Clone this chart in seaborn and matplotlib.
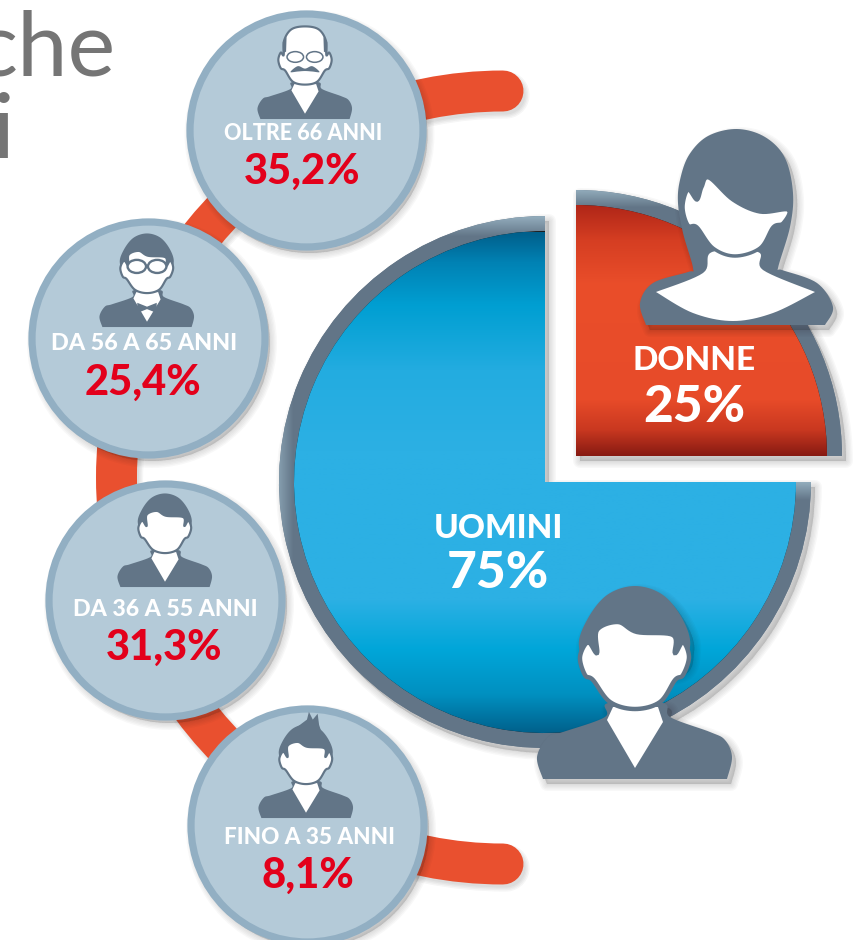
import numpy as np
import pandas as pd
import matplotlib
matplotlib.use('Agg')
import matplotlib.pyplot as plt
from matplotlib.colors import to_rgb
from matplotlib.patches import PathPatch, Ellipse
from matplotlib.path import Path
from matplotlib.transforms import Affine2D
import seaborn as sns

# data
age_groups = ['OLTRE 66 ANNI', 'DA 56 A 65 ANNI', 'DA 36 A 55 ANNI', 'FINO A 35 ANNI']
age_values = [35.2, 25.4, 31.3, 8.1]
gender_labels = ['UOMINI', 'DONNE']
gender_values = [75, 25]
title_bits = ['che', 'i']

# layout, in pixels of the picture (y down)
W, H = 858, 940
circle_x = [305.5, 148, 165, 307]
circle_y = [130, 338, 600, 825]
label_x = [303, 144, 165, 309]
label_y = [133, 344, 609, 837]
label_size = [15.5, 16.8, 16.7, 16.2]
SLATE = '#627587'
ORANGE = '#e9502f'
RED_TXT = '#e3001b'

sns.set_theme(style='white')
plt.rcParams['font.family'] = ['Lato', 'DejaVu Sans']

fig = plt.figure(figsize=(W / 100, H / 100), dpi=100)
ax = fig.add_axes([0, 0, 1, 1])
img = Affine2D().scale(1, -1).translate(0, H) + ax.transData


def smooth(pts, closed=True, n=10):
    # catmull-rom through the points
    p = np.array(pts, dtype=float)
    if closed:
        p = np.vstack([p[-1], p, p[0], p[1]])
    else:
        p = np.vstack([p[0], p, p[-1]])
    out = []
    for i in range(1, len(p) - 2):
        for t in np.linspace(0, 1, n, endpoint=False):
            out.append(0.5 * (2 * p[i] + (p[i + 1] - p[i - 1]) * t
                              + (2 * p[i - 1] - 5 * p[i] + 4 * p[i + 1] - p[i + 2]) * t ** 2
                              + (3 * p[i] - p[i - 1] - 3 * p[i + 1] + p[i + 2]) * t ** 3))
    if not closed:
        out.append(p[-2])
    return np.array(out)


def drop(path, z, dx=4, dy=5):
    # soft shadow made of a few wide see-through strokes
    moved = path.transformed(Affine2D().translate(dx, dy))
    for w in [10, 8, 6, 4, 2, 0.5]:
        ax.add_patch(PathPatch(moved, fc='k', ec='k', lw=w, alpha=0.028,
                               joinstyle='round', capstyle='round', transform=img, zorder=z))


def shape(xy, fc, z, ec='none', lw=0, shadow=False):
    path = Path(np.vstack([xy, xy[0]]), closed=True)
    if shadow:
        drop(path, z - 0.1)
    ax.add_patch(PathPatch(path, fc=fc, ec=ec, lw=lw, transform=img, zorder=z))


def place(pts, cx, cy, s):
    return np.array(pts, dtype=float) * s + [cx, cy]


MAN_SHOULDERS = [(-92, 97), (-98, 75), (-87, 55), (-72, 50), (-30, 35), (-27, 21),
                 (28, 21), (35, 35), (75, 50), (90, 58), (97, 75), (92, 97)]
MAN_HAIR = [(-56, -35), (-48, -62), (-28, -87), (0, -96), (28, -87), (48, -62), (55, -35),
            (40, -10), (-40, -10)]
MAN_FACE = [(-38, -52), (-17, -60), (2, -50), (38, -47), (40, -29), (48, -40), (54, -25),
            (48, -7), (40, -2), (25, 20), (0, 27), (-25, 20), (-42, -2), (-50, -7),
            (-55, -25), (-47, -40), (-38, -29)]
MAN_NECK = [(-28, 38), (0, 86), (28, 40), (23, 25), (-22, 25)]
BALD_FACE = [(0, -94), (28, -88), (43, -65), (44, -35), (50, -40), (55, -25), (50, -8),
             (41, -3), (25, 20), (0, 26), (-25, 20), (-41, -3), (-50, -8), (-55, -25),
             (-50, -40), (-44, -35), (-43, -65), (-28, -88)]


def man(cx, cy, s, z, kind='plain', shadow=False):
    body = smooth(MAN_SHOULDERS, closed=False)
    shape(place(body, cx, cy, s), SLATE, z, shadow=shadow)
    if kind == 'young':
        tuft = [(-22, -88), (2, -106), (6, -122), (14, -106), (24, -118), (27, -95), (32, -80)]
        shape(place(tuft, cx, cy, s), SLATE, z)
    if kind != 'old':
        shape(place(smooth(MAN_HAIR), cx, cy, s), SLATE, z, shadow=shadow)
    shape(place(MAN_NECK, cx, cy, s), 'white', z + 0.01)
    face = BALD_FACE if kind == 'old' else MAN_FACE
    shape(place(smooth(face), cx, cy, s), 'white', z + 0.02, ec=SLATE, lw=max(1.1, 3.2 * s))
    if kind == 'old':
        for sign in (-1, 1):
            side = [(sign * 38, -72), (sign * 46, -62), (sign * 46, -38), (sign * 39, -42)]
            shape(place(side, cx, cy, s), SLATE, z + 0.03)
            ax.add_patch(Ellipse((cx + sign * 20 * s, cy - 31 * s), 34 * s, 22 * s, fc='none', ec=SLATE,
                                 lw=1.1, transform=img, zorder=z + 0.03))
        tache = [(-30, 0), (-15, -12), (0, -7), (15, -12), (30, 0), (15, -1), (0, -2), (-15, -1)]
        shape(place(smooth(tache), cx, cy, s), SLATE, z + 0.03)
    if kind == 'specs':
        for sign in (-1, 1):
            ax.add_patch(Ellipse((cx + sign * 21 * s, cy - 28 * s), 38 * s, 27 * s, fc='white', ec=SLATE,
                                 lw=1.7, transform=img, zorder=z + 0.03))
        tie = [(-20, 47), (0, 55), (20, 47), (20, 68), (0, 60), (-20, 68)]
        shape(place(tie, cx, cy, s), SLATE, z + 0.03)


WOMAN_HAIR = [(825, 325), (833, 307), (817, 283), (782, 270), (778, 268), (790, 227),
              (793, 193), (785, 158), (765, 137), (737, 129), (708, 136), (689, 155), (680, 180), (678, 203),
              (683, 233), (693, 268), (688, 272), (653, 283), (640, 303), (646, 325)]
WOMAN_FACE = [(709, 178), (733, 200), (760, 212), (788, 210), (783, 223), (773, 227), (760, 248),
              (735, 256), (713, 248), (697, 227), (688, 225), (683, 207), (688, 190), (697, 200), (702, 187)]
WOMAN_CHEST_LOW = [(815, 292), (773, 313), (733, 321), (693, 313), (656, 292)]
WOMAN_CHEST_TOP = [(656, 292), (703, 273), (712, 252), (758, 252), (763, 270), (815, 292)]


def ramp(stops, n=400):
    ys = [a for a, c in stops]
    cols = np.array([to_rgb(c) for a, c in stops])
    y = np.linspace(ys[0], ys[-1], n)
    return np.stack([np.interp(y, ys, cols[:, i]) for i in range(3)], axis=1)[:, None, :]


def wheel(cx, cy, which, fill_stops, ring_img, z):
    # one pie for the rim and one for the fill, both from the gender shares
    rim = ax.pie(gender_values, startangle=90, radius=266, center=(cx, H - cy), colors=[SLATE, SLATE],
                 wedgeprops={'zorder': z, 'lw': 0})[0]
    rim[1 - which].set_visible(False)
    path = rim[which].get_path().transformed(rim[which].get_transform() + img.inverted())
    drop(path, z - 0.1)
    x0, x1 = cx - 270, cx + 270
    y0, y1 = cy - 270, cy + 270
    xx, yy = np.meshgrid(np.linspace(x0, x1, 540), np.linspace(y0, y1, 540))
    light = np.clip(ring_img(xx, yy), 0, 1)[..., None]
    rgb = np.array(to_rgb(SLATE)) * (1 - light) + np.array(to_rgb('#93adbd')) * light
    im = ax.imshow(rgb, extent=(x0, x1, H - y1, H - y0), origin='upper', aspect='auto', zorder=z + 0.01)
    im.set_clip_path(rim[which])
    inner = ax.pie(gender_values, startangle=90, radius=251, center=(cx, H - cy), colors=['k', 'k'],
                   wedgeprops={'zorder': z + 0.02, 'lw': 0})[0]
    inner[1 - which].set_visible(False)
    grad = ramp(fill_stops)
    im2 = ax.imshow(grad, extent=(x0, x1, H - fill_stops[-1][0], H - fill_stops[0][0]), origin='upper',
                    aspect='auto', zorder=z + 0.03)
    im2.set_clip_path(inner[which])


# orange arc behind the circles
arc = Path.arc(90, 270).transformed(Affine2D().scale(386.5).translate(503, 477.5))
arc_shadow = arc.transformed(Affine2D().translate(3, 4))
for w in [34, 32, 30, 28]:
    ax.add_patch(PathPatch(arc_shadow, fc='none', ec='k', lw=w, alpha=0.04, capstyle='round',
                           transform=img, zorder=0.9))
ax.add_patch(PathPatch(arc, fc='none', ec=ORANGE, lw=29.5, capstyle='round', transform=img, zorder=1))

# age circles
ages = pd.DataFrame({'group': age_groups, 'value': age_values, 'x': circle_x,
                     'y': [H - v for v in circle_y]})
unit = Path.unit_circle()
for cx, cy in zip(circle_x, circle_y):
    drop(unit.transformed(Affine2D().scale(118).translate(cx, cy)), 1.5)
sns.scatterplot(data=ages, x='x', y='y', s=(2 * 116.5 * 0.72) ** 2, color='#b4cad8', edgecolor='#92afc3',
                linewidth=5.2, legend=False, zorder=2, ax=ax)

man(305, 72, 0.485, 3, 'old')
man(147, 280, 0.485, 3, 'specs')
man(165, 540, 0.485, 3)
man(306, 771, 0.485, 3, 'young')

for (_, row), tx, ty, fs in zip(ages.iterrows(), label_x, label_y, label_size):
    ax.text(tx, H - ty, row['group'], color='white', fontsize=fs, fontweight='black',
            ha='center', va='center', zorder=8)
    ax.text(tx - 1, H - ty - 39, f"{row['value']:.1f}".replace('.', ',') + '%', color=RED_TXT, fontsize=30,
            fontweight='black', ha='center', va='center', zorder=8)

# gender wheel
blue = [(232, '#005f8b'), (262, '#0082b4'), (305, '#009fd2'), (370, '#23ace0'), (450, '#2cb0e4'),
        (600, '#2cb0e4'), (650, '#00a6d9'), (695, '#0090c0'), (733, '#00618c')]
red = [(205, '#b02618'), (240, '#d53e22'), (285, '#ea4e2a'), (400, '#e74b29'), (430, '#c93820'),
       (456, '#871a12')]


def blue_rim(x, y):
    top = 1 - (y - 216) / 20
    left = (1 - (x - 279) / 14) * 0.7
    end = (1 - (y - 482) / 18) * (x > 700)
    return np.maximum(np.maximum(top, left), end)


def red_rim(x, y):
    return 1 - (y - 189) / 18


wheel(545, 482, 0, blue, blue_rim, 4)
wheel(576, 456, 1, red, red_rim, 4)

man(635, 682, 1.0, 6, shadow=True)
shape(smooth(WOMAN_HAIR, closed=False), SLATE, 6, shadow=True)
chest = np.vstack([smooth(WOMAN_CHEST_LOW, closed=False), smooth(WOMAN_CHEST_TOP, closed=False)])
shape(chest, 'white', 6.01)
shape(smooth(WOMAN_FACE), 'white', 6.02, ec=SLATE, lw=2.5)

ax.text(498, H - 528, gender_labels[0], color='white', fontsize=24, fontweight='black', ha='center',
        va='center', zorder=8)
ax.text(498, H - 574, f'{gender_values[0]}%', color='white', fontsize=37, fontweight='black', ha='center',
        va='center', zorder=8)
ax.text(694, H - 361, gender_labels[1], color='white', fontsize=24, fontweight='black', ha='center',
        va='center', zorder=8)
ax.text(694, H - 408, f'{gender_values[1]}%', color='white', fontsize=37, fontweight='black', ha='center',
        va='center', zorder=8)

# cut off heading on the left
ax.text(116, H - 75, title_bits[0], color='#757575', fontsize=65, ha='right', va='baseline', zorder=8)
ax.text(-7, H - 158, title_bits[1], color='#757575', fontsize=65, ha='left', va='baseline', zorder=8)

ax.set_xlim(0, W)
ax.set_ylim(0, H)
ax.set_aspect('auto')
ax.set_axis_off()
fig.savefig('out.png', dpi=100, facecolor='white')
